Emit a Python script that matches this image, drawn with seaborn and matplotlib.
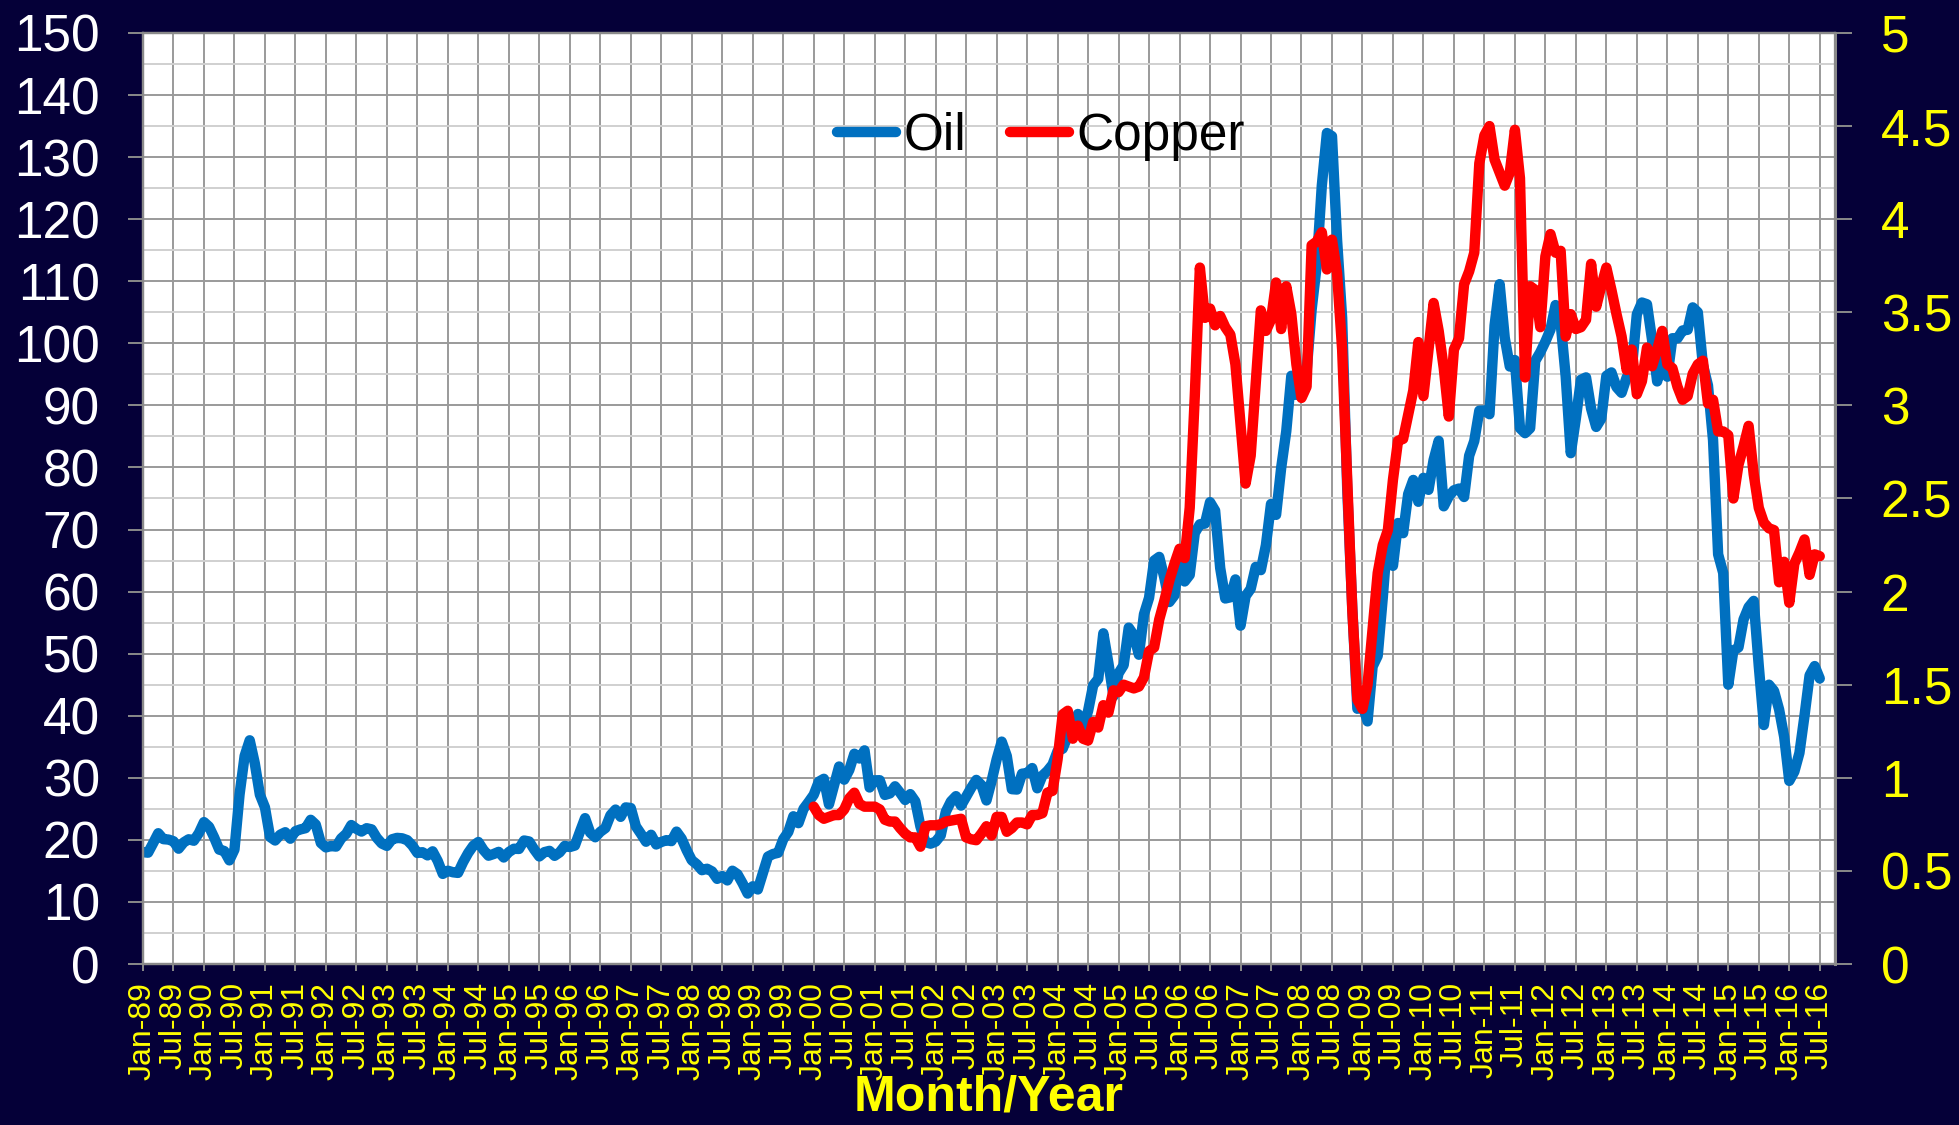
import numpy as np
import pandas as pd
import matplotlib
matplotlib.use("Agg")
import matplotlib.pyplot as plt
import seaborn as sns
from matplotlib.ticker import MultipleLocator, FixedLocator, NullLocator

# ---------------- data (monthly) ----------------
oil_1989 = [18.02, 17.94, 19.48, 21.07, 20.12, 20.05, 19.78, 18.58, 19.59, 20.10, 19.86, 21.10]
oil_1990 = [22.86, 22.11, 20.39, 18.43, 18.20, 16.70, 18.45, 27.31, 33.51, 36.04, 32.33, 27.28]
oil_1991 = [25.23, 20.48, 19.90, 20.83, 21.23, 20.19, 21.40, 21.69, 21.89, 23.23, 22.46, 19.50]
oil_1992 = [18.79, 19.01, 18.92, 20.23, 20.98, 22.39, 21.78, 21.34, 21.88, 21.69, 20.34, 19.41]
oil_1993 = [19.03, 20.09, 20.32, 20.25, 19.95, 19.09, 17.89, 18.01, 17.50, 18.15, 16.61, 14.52]
oil_1994 = [15.03, 14.78, 14.68, 16.42, 17.89, 19.06, 19.66, 18.38, 17.45, 17.72, 18.07, 17.16]
oil_1995 = [18.04, 18.57, 18.54, 19.90, 19.74, 18.45, 17.33, 18.02, 18.23, 17.43, 17.99, 19.03]
oil_1996 = [18.85, 19.09, 21.33, 23.50, 21.17, 20.42, 21.30, 21.90, 23.97, 24.88, 23.71, 25.23]
oil_1997 = [25.13, 22.18, 20.97, 19.70, 20.82, 19.26, 19.66, 19.95, 19.80, 21.33, 20.19, 18.33]
oil_1998 = [16.72, 16.06, 15.12, 15.35, 14.91, 13.72, 14.17, 13.47, 15.03, 14.46, 13.00, 11.35]
oil_1999 = [12.52, 12.01, 14.68, 17.31, 17.72, 17.92, 20.10, 21.28, 23.80, 22.69, 25.00, 26.10]
oil_2000 = [27.26, 29.37, 29.84, 25.72, 28.79, 31.82, 29.70, 31.26, 33.88, 33.11, 34.42, 28.44]
oil_2001 = [29.59, 29.61, 27.24, 27.49, 28.63, 27.60, 26.43, 27.37, 26.20, 22.17, 19.64, 19.39]
oil_2002 = [19.72, 20.72, 24.53, 26.18, 27.04, 25.52, 26.97, 28.39, 29.66, 28.84, 26.35, 29.46]
oil_2003 = [32.95, 35.83, 33.51, 28.17, 28.11, 30.66, 30.76, 31.57, 28.31, 30.34, 31.11, 32.13]
oil_2004 = [34.31, 34.69, 36.74, 36.75, 40.28, 38.03, 40.78, 44.90, 45.94, 53.28, 48.47, 43.15]
oil_2005 = [46.84, 48.15, 54.19, 52.98, 49.83, 56.35, 59.00, 64.99, 65.59, 62.26, 58.32, 59.41]
oil_2006 = [65.49, 61.63, 62.69, 69.44, 70.84, 70.95, 74.41, 73.04, 63.80, 58.89, 59.08, 61.96]
oil_2007 = [54.51, 59.28, 60.44, 63.98, 63.46, 67.49, 74.12, 72.36, 79.92, 85.80, 94.77, 91.69]
oil_2008 = [92.97, 95.39, 105.45, 112.58, 125.40, 133.88, 133.37, 116.67, 104.11, 76.61, 57.31, 41.12]
oil_2009 = [41.71, 39.09, 47.94, 49.65, 59.03, 69.64, 64.15, 71.05, 69.41, 75.72, 77.99, 74.47]
oil_2010 = [78.33, 76.39, 81.20, 84.29, 73.74, 75.34, 76.32, 76.60, 75.24, 81.89, 84.25, 89.15]
oil_2011 = [89.17, 88.58, 102.86, 109.53, 100.90, 96.26, 97.30, 86.33, 85.52, 86.32, 97.16, 98.56]
oil_2012 = [100.27, 102.20, 106.16, 103.32, 94.66, 82.30, 87.90, 94.13, 94.51, 89.49, 86.53, 87.86]
oil_2013 = [94.76, 95.31, 92.94, 92.02, 94.51, 95.77, 104.67, 106.57, 106.29, 100.54, 93.86, 97.63]
oil_2014 = [94.62, 100.82, 100.80, 102.07, 102.18, 105.79, 105.00, 96.54, 93.21, 84.40, 66.00, 63.00]
oil_2015 = [45.00, 50.50, 51.00, 55.50, 57.50, 58.50, 48.00, 38.50, 45.00, 44.00, 41.00, 36.60]
oil_2016 = [29.50, 31.00, 34.00, 40.00, 46.50, 48.00, 46.00]

cu_2000 = [0.845, 0.80, 0.78, 0.79, 0.80, 0.80, 0.83, 0.89, 0.92, 0.86, 0.845, 0.845]
cu_2001 = [0.845, 0.83, 0.775, 0.765, 0.765, 0.73, 0.70, 0.68, 0.68, 0.63, 0.74, 0.745]
cu_2002 = [0.745, 0.75, 0.765, 0.77, 0.775, 0.78, 0.68, 0.67, 0.665, 0.70, 0.74, 0.69]
cu_2003 = [0.79, 0.79, 0.71, 0.73, 0.76, 0.76, 0.75, 0.80, 0.80, 0.81, 0.92, 0.93]
cu_2004 = [1.10, 1.34, 1.36, 1.21, 1.28, 1.21, 1.20, 1.30, 1.27, 1.39, 1.35, 1.47]
cu_2005 = [1.46, 1.50, 1.49, 1.48, 1.49, 1.54, 1.68, 1.70, 1.85, 1.95, 2.06, 2.15]
cu_2006 = [2.23, 2.18, 2.45, 3.05, 3.74, 3.47, 3.52, 3.43, 3.48, 3.42, 3.38, 3.22]
cu_2007 = [2.90, 2.58, 2.73, 3.12, 3.51, 3.40, 3.46, 3.66, 3.41, 3.64, 3.49, 3.22]
cu_2008 = [3.04, 3.10, 3.86, 3.88, 3.93, 3.73, 3.89, 3.71, 3.30, 2.60, 1.90, 1.42]
cu_2009 = [1.37, 1.50, 1.80, 2.10, 2.25, 2.33, 2.60, 2.81, 2.82, 2.95, 3.08, 3.34]
cu_2010 = [3.05, 3.30, 3.55, 3.40, 3.20, 2.94, 3.30, 3.36, 3.65, 3.72, 3.82, 4.30]
cu_2011 = [4.45, 4.50, 4.32, 4.25, 4.18, 4.25, 4.48, 4.22, 3.15, 3.64, 3.62, 3.42]
cu_2012 = [3.80, 3.92, 3.82, 3.83, 3.37, 3.49, 3.41, 3.42, 3.46, 3.76, 3.53, 3.64]
cu_2013 = [3.74, 3.62, 3.49, 3.37, 3.19, 3.30, 3.06, 3.13, 3.31, 3.21, 3.30, 3.40]
cu_2014 = [3.22, 3.20, 3.10, 3.03, 3.05, 3.17, 3.22, 3.24, 3.01, 3.03, 2.86, 2.86]
cu_2015 = [2.84, 2.50, 2.68, 2.78, 2.89, 2.63, 2.45, 2.37, 2.34, 2.33, 2.05, 2.16]
cu_2016 = [1.94, 2.15, 2.21, 2.28, 2.09, 2.20, 2.19]

month_names = ["Jan", "Feb", "Mar", "Apr", "May", "Jun",
               "Jul", "Aug", "Sep", "Oct", "Nov", "Dec"]
years = list(range(1989, 2017))
copper_start_label = "Jan-00"
left_ticks = list(range(0, 151, 10))
right_ticks = [0, 0.5, 1, 1.5, 2, 2.5, 3, 3.5, 4, 4.5, 5]
series_names = ["Oil", "Copper"]
x_title = "Month/Year"

# ---------------- assemble ----------------
oil = sum([oil_1989, oil_1990, oil_1991, oil_1992, oil_1993, oil_1994, oil_1995,
           oil_1996, oil_1997, oil_1998, oil_1999, oil_2000, oil_2001, oil_2002,
           oil_2003, oil_2004, oil_2005, oil_2006, oil_2007, oil_2008, oil_2009,
           oil_2010, oil_2011, oil_2012, oil_2013, oil_2014, oil_2015, oil_2016], [])
copper = sum([cu_2000, cu_2001, cu_2002, cu_2003, cu_2004, cu_2005, cu_2006,
              cu_2007, cu_2008, cu_2009, cu_2010, cu_2011, cu_2012, cu_2013,
              cu_2014, cu_2015, cu_2016], [])

month_labels = [f"{m}-{str(y)[2:]}" for y in years for m in month_names][:len(oil)]
cu_start = month_labels.index(copper_start_label)

df_oil = pd.DataFrame({"idx": np.arange(len(oil)), "value": oil})
df_cu = pd.DataFrame({"idx": np.arange(cu_start, cu_start + len(copper)), "value": copper})

tick_pos = list(range(0, len(oil), 6))
tick_lab = [month_labels[i] for i in tick_pos]

# ---------------- style ----------------
BG = "#050038"
YEL = "#FFFF00"
GRID_DARK = "#9a9a9a"
GRID_LIGHT = "#d0d0d0"
LW = 7.5
plt.rcParams["font.family"] = ["Liberation Sans", "DejaVu Sans"]

fig = plt.figure(figsize=(19.59, 11.25), dpi=100, facecolor=BG)
ax = fig.add_axes([0.0730, 0.1431, 0.8637, 0.8276])
ax.set_facecolor("white")

sns.lineplot(data=df_oil, x="idx", y="value", ax=ax, color="#0070C0",
             linewidth=LW, legend=False, solid_joinstyle="round",
             solid_capstyle="round")
ax.set_xlim(0, 333)
ax.set_ylim(0, 150)

ax2 = ax.twinx()
sns.lineplot(data=df_cu, x="idx", y="value", ax=ax2, color="#FF0000",
             linewidth=LW, legend=False, solid_joinstyle="round",
             solid_capstyle="round")
ax2.set_ylim(0, 5)
ax2.set_xlim(0, 333)

# grid
ax.set_axisbelow(True)
ax.yaxis.set_major_locator(FixedLocator(left_ticks))
ax.yaxis.set_minor_locator(MultipleLocator(5))
ax.xaxis.set_major_locator(FixedLocator(tick_pos))
ax.xaxis.set_minor_locator(NullLocator())
ax.grid(which="minor", axis="y", color=GRID_LIGHT, linewidth=1.4)
ax.grid(which="major", axis="y", color=GRID_DARK, linewidth=1.4)
ax.grid(which="major", axis="x", color=GRID_DARK, linewidth=1.4)

ax.set_xticklabels(tick_lab)
ax.tick_params(axis="y", which="major", length=11, width=1.4, color="#8a8a8a",
               labelcolor="white", labelsize=37, pad=20)
ax.tick_params(axis="y", which="minor", length=0)
ax.tick_params(axis="x", which="major", length=5, width=1.4, color="#8a8a8a",
               labelcolor=YEL, labelsize=23, pad=8, labelrotation=90)

ax2.yaxis.set_major_locator(FixedLocator(right_ticks))
ax2.set_yticklabels([f"{v:g}" for v in right_ticks])
ax2.tick_params(axis="y", length=12, width=1.4, color="#8a8a8a",
                labelcolor=YEL, labelsize=37, pad=21)

for a in (ax, ax2):
    for s in a.spines.values():
        s.set_color("#8a8a8a")
        s.set_linewidth(1.6)
ax2.spines["right"].set_linewidth(2.2)

ax.set_ylabel("")
ax2.set_ylabel("")
ax.set_xlabel("")
ax2.set_xlabel("")
fig.text(0.5045, 0.0125, x_title, color=YEL, fontsize=36, fontweight="bold",
         ha="center", va="baseline")

handles = [ax.get_lines()[0], ax2.get_lines()[0]]
leg = ax2.legend(handles, series_names, loc="center left",
                 bbox_to_anchor=(0.41, 0.889), ncol=2, frameon=False,
                 fontsize=37, handlelength=1.15, handletextpad=0.15,
                 columnspacing=0.85, borderpad=0, borderaxespad=0)
for t in leg.get_texts():
    t.set_color("black")

fig.savefig("out.png", dpi=100, facecolor=BG)
